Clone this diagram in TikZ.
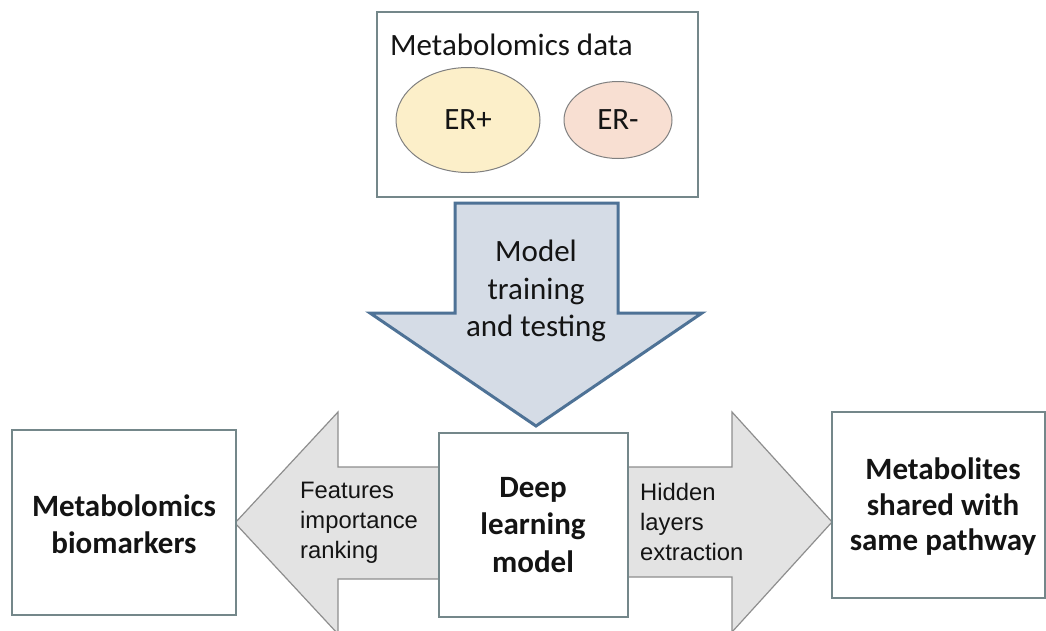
\documentclass[tikz,border=0pt]{standalone}
\usepackage{fontspec}
\setmainfont{Carlito}
\newfontfamily\arialf{Liberation Sans}
\usetikzlibrary{shapes.geometric}
\definecolor{boxline}{HTML}{74878A}
\definecolor{txt}{HTML}{141414}
\definecolor{downfill}{HTML}{D5DCE6}
\definecolor{downline}{HTML}{4E7296}
\definecolor{grayfill}{HTML}{E3E3E3}
\definecolor{grayline}{HTML}{8E8E8E}
\definecolor{erpos}{HTML}{FCEFC9}
\definecolor{erneg}{HTML}{F8DFD2}
\definecolor{ellline}{HTML}{808080}
\tikzset{
  plainbox/.style={draw=boxline, line width=1.3pt, fill=white, rectangle, inner sep=0pt},
  bigtxt/.style={text=txt, font=\fontsize{31}{37.5}\selectfont, align=center},
  boldtxt/.style={text=txt, font=\fontsize{31}{37.5}\selectfont\bfseries, align=center},
  sidetxt/.style={text=txt, font=\arialf\fontsize{23.8}{30}\selectfont, align=left, anchor=west, inner sep=0pt},
  ell/.style={draw=ellline, line width=1pt, ellipse, inner sep=0pt},
  downarrow/.style={fill=downfill, draw=downline, line width=3pt, line join=miter},
  grayarrow/.style={fill=grayfill, draw=grayline, line width=1.2pt, line join=miter}
}
\begin{document}
\begin{tikzpicture}[x=1pt, y=-1pt]
\useasboundingbox (0,0) rectangle (1046,630);
\fill[white] (0,0) rectangle (1046,630);

% top data box
\node[plainbox, minimum width=321pt, minimum height=185pt] (data) at (537.5,104.5) {};
\node[bigtxt, anchor=base west, inner sep=0pt] (datatitle) at (390,55) {Metabolomics data};
\node[ell, fill=erpos, minimum width=144pt, minimum height=105pt] (erp) at (468,120) {};
\node[bigtxt] (erptxt) at (erp.center) {ER+};
\node[ell, fill=erneg, minimum width=108pt, minimum height=77pt] (ern) at (618,120) {};
\node[bigtxt] (erntxt) at (ern.center) {ER-};

% down arrow
\draw[downarrow] (455,203) -- (618,203) -- (618,313) -- (702,313) -- (536,426) -- (370,313) -- (455,313) -- cycle;
\node[bigtxt] (train) at (536,291) {Model\\training\\and testing};

% side arrows
\draw[grayarrow] (445,467) -- (338,467) -- (338,412) -- (235,523) -- (338,634) -- (338,579) -- (445,579);
\draw[grayarrow] (620,467) -- (732,467) -- (732,412) -- (832,522) -- (732,632) -- (732,577) -- (620,577);

% boxes
\node[plainbox, minimum width=189pt, minimum height=184pt] (dl) at (533.5,525) {};
\node[boldtxt] (dltxt) at (533,525) {Deep\\learning\\model};
\node[plainbox, minimum width=224pt, minimum height=185pt] (bio) at (124,522.5) {};
\node[boldtxt] (biotxt) at (124,524) {Metabolomics\\biomarkers};
\node[plainbox, minimum width=213pt, minimum height=186pt] (path) at (938.5,505) {};
\node[boldtxt, font=\fontsize{31}{35.5}\selectfont\bfseries] (pathtxt) at (943,507) {Metabolites\\shared with\\same pathway};

% arrow labels
\node[sidetxt] (feat) at (300,523) {Features\\importance\\ranking};
\node[sidetxt] (hid) at (640,522) {Hidden\\layers\\extraction};
\end{tikzpicture}
\end{document}
